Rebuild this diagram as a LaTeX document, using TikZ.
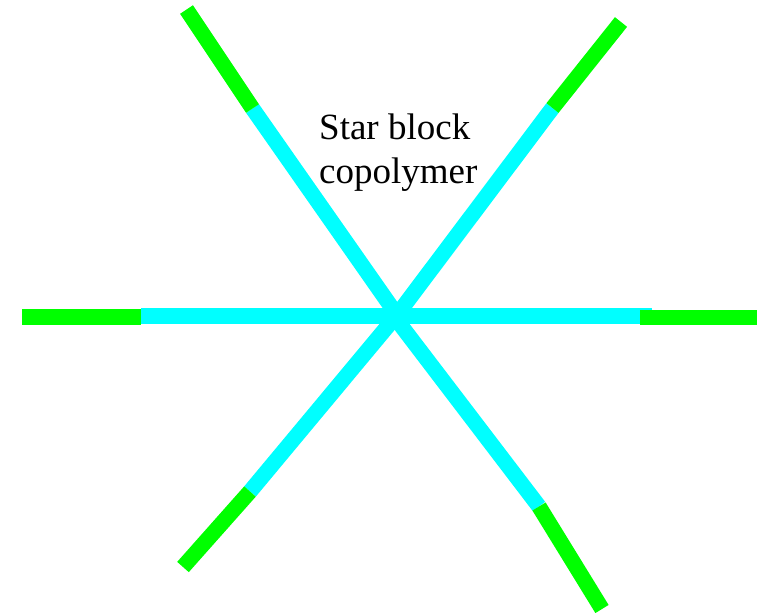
\documentclass[tikz,border=0pt]{standalone}
\usepackage{fontspec}
\setmainfont{Liberation Serif}
\definecolor{armcyan}{RGB}{0,255,255}
\definecolor{armgreen}{RGB}{0,255,0}
\tikzset{
  inner/.style={draw=armcyan, line width=15.5pt},
  outer/.style={draw=armgreen, line width=15.5pt},
  lbl/.style={anchor=base west, inner sep=0pt, font=\fontsize{37}{44}\selectfont}
}
\begin{document}
\begin{tikzpicture}[x=1pt,y=-1pt]
\useasboundingbox (0,0) rectangle (758,613);
% centre points
\coordinate (c) at (397,315);
\coordinate (c2) at (393,315);
% joints
\coordinate (jul) at (252.5,108.5);
\coordinate (jur) at (552.5,108);
\coordinate (jl) at (141,316);
\coordinate (jr) at (652,316);
\coordinate (jll) at (250,491.5);
\coordinate (jlr) at (539,506.5);
% tips
\coordinate (tul) at (186.5,9.5);
\coordinate (tur) at (621,22);
\coordinate (tl) at (22,317);
\coordinate (tr) at (757,317.5);
\coordinate (tll) at (183,567);
\coordinate (tlr) at (602,609);
% inner blocks
\draw[inner] (jul) -- (c);
\draw[inner] (jur) -- (c);
\draw[inner] (jl) -- (jr);
\draw[inner] (jll) -- (c);
\draw[inner] (jlr) -- (c2);
% outer blocks
\draw[outer] (tul) -- (jul);
\draw[outer] (tur) -- (jur);
\draw[outer] (tl) -- (141,317);
\draw[outer] (640,317.5) -- (tr);
\draw[outer] (tll) -- (jll);
\draw[outer] (tlr) -- (jlr);
% label
\node[lbl] (l1) at (319,139) {Star block};
\node[lbl] (l2) at (319,183) {copolymer};
\end{tikzpicture}
\end{document}
